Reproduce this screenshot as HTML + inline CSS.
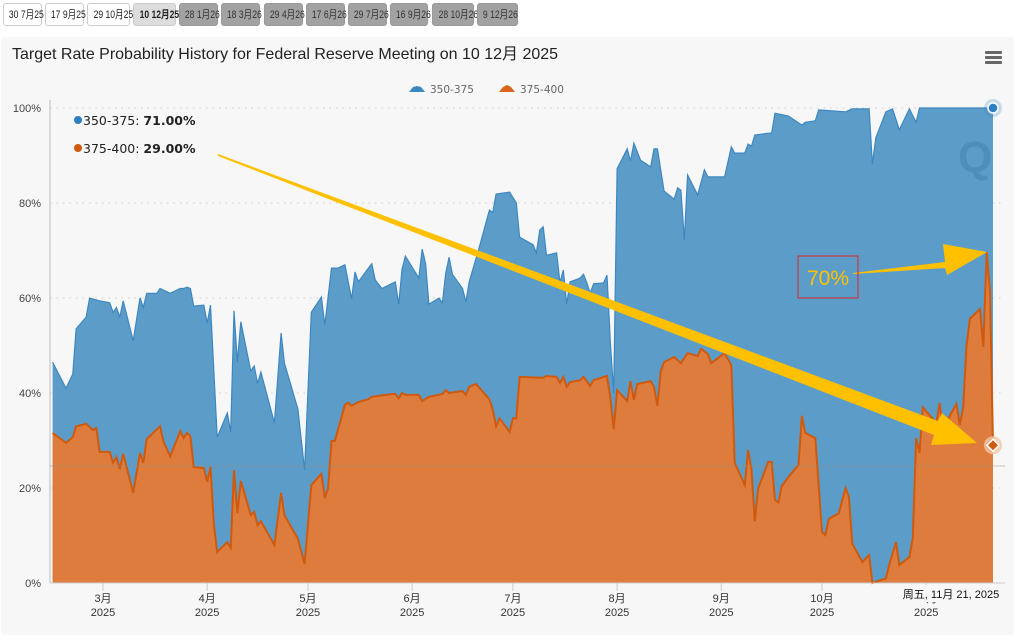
<!DOCTYPE html>
<html><head><meta charset="utf-8"><style>
body{margin:0;width:1015px;height:640px;background:#fff;font-family:"Liberation Sans","Noto Sans CJK SC",sans-serif;overflow:hidden;position:relative}
.tab{position:absolute;top:3px;height:23px;line-height:23px;font-size:11px;white-space:nowrap;text-align:center;border:1px solid #ccc;border-radius:3px;box-sizing:border-box;color:#222;background:#fff}
.tab span{display:inline-block;transform:scaleX(0.78);transform-origin:center}
.tab.dark{background:#a2a2a2;border-color:#999;color:#333}
.tab.cur{background:#ddd;font-weight:bold}
#panel{position:absolute;left:1px;top:37px;width:1013px;height:598px;background:#f7f7f7;border-radius:4px}
</style></head><body>
<div class="tab" style="left:3px;width:39px"><span>30 7月25</span></div>
<div class="tab" style="left:45px;width:39px"><span>17 9月25</span></div>
<div class="tab" style="left:87px;width:43px"><span>29 10月25</span></div>
<div class="tab cur" style="left:133px;width:43px"><span>10 12月25</span></div>
<div class="tab dark" style="left:179px;width:39px"><span>28 1月26</span></div>
<div class="tab dark" style="left:221px;width:39px"><span>18 3月26</span></div>
<div class="tab dark" style="left:264px;width:39px"><span>29 4月26</span></div>
<div class="tab dark" style="left:306px;width:39px"><span>17 6月26</span></div>
<div class="tab dark" style="left:348px;width:39px"><span>29 7月26</span></div>
<div class="tab dark" style="left:390px;width:38px"><span>16 9月26</span></div>
<div class="tab dark" style="left:432px;width:42px"><span>28 10月26</span></div>
<div class="tab dark" style="left:477px;width:41px"><span>9 12月26</span></div>
<div id="panel"></div>
<svg id="chart" width="1015" height="640" style="position:absolute;left:0;top:0"></svg>
<script>
const monthLabels=["3月","4月","5月","6月","7月","8月","9月","10月","11月"];
const monthDays=[0,31,61,92,122,153,184,214,245];
const yTicks=[0,20,40,60,80,100];
const blueDays=[-15,-11,-9,-8,-5,-4,-1,2,3,4,5,6,9,11,12,13,16,17,20,23,24,25,26,27,30,31,32,34,37,38,39,40,41,44,45,46,47,51,53,54,58,60,62,65,66,68,70,72,74,75,76,79,80,81,83,87,88,89,90,94,95,96,97,100,101,102,103,104,107,108,109,112,115,116,117,121,123,124,128,129,130,131,132,135,136,137,138,139,142,143,144,145,146,149,150,151,152,153,156,157,158,160,163,164,165,167,170,171,172,173,174,177,179,180,185,187,188,191,192,193,194,198,199,200,204,208,209,212,213,221,223,228,229,230,233,235,237,240,242,243,265];
const blueStackTop=[46.5,41,44,53.5,56,60,59.4,59,57,58,56,59.4,51,60,58,61,61,62,61,62,62,62.3,62,58.3,58.5,54.7,58.5,30.7,35.8,31.8,57.3,46.5,55,44.6,45.7,42,44.4,33.7,52.6,46.3,36.6,23.8,57,60.2,54.3,66.3,66.3,67,59.8,65.5,63.4,66.3,67.2,63.8,62,63.4,58.7,66,68.8,64.2,70.3,67.2,58.7,60,59,65.2,68.6,65,62,59.2,63.4,70.7,78.5,78,81.9,82.3,80,72.8,71.2,69.5,74.3,75,69,69.5,63.2,65.9,58.7,63.4,64.2,65,63.2,61,63,63.2,64.8,50.5,40,87.2,91.4,88.8,92.6,89,87.6,91.4,91.4,82.5,80.8,83.2,82.7,72.2,85.9,81.7,87,85.5,85.5,91.8,90.5,90.5,92.4,92,94.3,94.7,94.7,98.9,98.3,96.4,97,97.3,99.6,99.2,99.8,99.8,88.2,93.7,99.2,99.8,95.4,99.8,97,100,100];
const orangeDays=[-15,-11,-9,-8,-5,-3,-2,-1,2,3,4,5,6,9,11,12,13,17,18,20,23,24,25,26,27,30,31,32,33,34,37,38,39,40,41,44,45,46,47,51,53,54,58,60,62,65,66,67,68,69,72,73,74,76,79,80,86,87,88,89,90,94,95,97,101,102,103,107,108,109,111,115,116,117,118,121,122,123,124,131,132,135,136,137,138,139,142,143,145,146,150,151,152,153,156,157,158,159,163,164,165,166,167,170,172,174,177,178,180,181,185,187,188,191,192,193,194,195,198,199,200,201,202,205,207,208,209,212,214,215,216,219,221,222,223,226,228,229,233,234,236,237,240,241,242,243,244,248,249,250,254,255,256,257,258,261,262,263,264,265];
const orangeValues=[31.6,29.5,30.7,33,33.5,32.2,32.6,27.6,27.6,25.3,26.5,24,27.2,19,27.4,25.3,30.3,33,29.7,26.7,32,30.5,31.6,30.9,24.4,24.2,21.3,24.4,12.2,6.5,8.6,7.4,23.8,14.7,21.5,14.3,15,12.2,13,8,19,14.3,9.3,4,20.6,23,17.9,20,29.9,29.9,37.5,38,37.3,38.1,38.7,39.2,39.8,39.8,38.9,40,39.6,39.6,38.3,39.2,39.8,40.6,40,40.4,39.6,41.3,41.9,38.7,36.4,33,34.7,31.8,34.7,34.7,43.4,43.2,43.6,43.4,42.1,43.4,41.3,42.3,42.7,43.4,41.5,42.7,43.6,38.9,32.4,40.6,38.3,42.5,38.5,41.9,42.5,41.3,37.3,44.6,46.5,47.6,46.3,48.4,47.8,49.3,48.2,46.3,48.4,45.9,25.3,20.6,28,23.8,13,20,25.5,25.5,17.5,17,20.4,23.2,24.8,35.2,31.6,30.5,10.7,10.1,13.5,14.7,20,18.1,8.2,4.4,5.9,0,1,3.8,8.6,3.8,5.5,9.5,30.5,27.4,37,33.7,37.9,32.6,37.7,33.3,37,49.9,55.6,57.7,49.7,69.7,61.3,29];
const NS='http://www.w3.org/2000/svg';
const svg=document.getElementById('chart');
const X0=103,PX=3.36,XL=50,XR=993,Y0=583,PY=4.75;
function xs(d){return Math.max(XL,Math.min(XR,X0+d*PX));}
function ys(v){return Y0-v*PY;}
function mk(tag,attrs,parent){const e=document.createElementNS(NS,tag);for(const k in attrs)e.setAttribute(k,attrs[k]);(parent||svg).appendChild(e);return e;}
let t=mk('text',{x:12,y:59,'font-size':16,fill:'#222'});t.textContent='Target Rate Probability History for Federal Reserve Meeting on 10 12月 2025';


let menu=mk('g',{});


[52,57,62].forEach(y=>mk('rect',{x:985,y:y-1,width:17,height:3,rx:1,fill:'#666'},menu));
let lg=mk('g',{'font-size':10.5,fill:'#666','font-family':'"DejaVu Sans",sans-serif'});


let l1=mk('g',{},lg);


mk('path',{d:'M409 92 L413 87 L417 86 L421 87 L425 92 Z',fill:'#3d87c0'},l1);
let lt=mk('text',{x:430,y:93},l1);lt.textContent='350-375';
let l2=mk('g',{},lg);


mk('path',{d:'M499 92 L503 87 L507 85 L511 87 L515 92 Z',fill:'#d9661a'},l2);
lt=mk('text',{x:520,y:93},l2);lt.textContent='375-400';
yTicks.forEach(v=>{
 if(v>0){let g=mk('line',{x1:XL,x2:1005,y1:ys(v),y2:ys(v),stroke:'#ccc','stroke-dasharray':'1.5,5'});
 
 }
 let tx=mk('text',{x:41,y:ys(v)+4,'font-size':11,fill:'#444','text-anchor':'end'});tx.textContent=v+'%';
 
 
});
mk('line',{x1:XL,x2:XL,y1:100,y2:Y0,stroke:'#bbb'});
function pts(days,vals){return days.map((d,i)=>xs(d).toFixed(1)+','+ys(vals[i]).toFixed(1));}
let bp=pts(blueDays,blueStackTop);
let ba=mk('path',{d:'M'+xs(blueDays[0])+','+Y0+' L'+bp.join(' L')+' L'+xs(blueDays[blueDays.length-1])+','+Y0+'Z',fill:'#5b9dc8'});


mk('path',{d:'M'+bp.join(' L'),fill:'none',stroke:'#3d87c0','stroke-width':1.2});
let op=pts(orangeDays,orangeValues);
let oa=mk('path',{d:'M'+xs(orangeDays[0])+','+Y0+' L'+op.join(' L')+' L'+xs(orangeDays[orangeDays.length-1])+','+Y0+'Z',fill:'#dd7c3d'});


let ol=mk('path',{d:'M'+op.join(' L'),fill:'none',stroke:'#cf5a0e','stroke-width':2});


let wm=mk('text',{x:958,y:172,'font-size':44,'font-weight':'bold',fill:'#3f7fae','fill-opacity':0.5});wm.textContent='Q';


mk('line',{x1:XL,x2:1005,y1:466,y2:466,stroke:'#9a8a80','stroke-opacity':0.5});
mk('line',{x1:XL,x2:1005,y1:Y0,y2:Y0,stroke:'#ccc'});
const lastD=blueDays[blueDays.length-1];
mk('circle',{cx:xs(lastD),cy:ys(blueStackTop[blueStackTop.length-1]),r:9,fill:'#3d87c0','fill-opacity':0.25});
let bm=mk('circle',{cx:xs(lastD),cy:ys(blueStackTop[blueStackTop.length-1]),r:5,fill:'#2e7fc0',stroke:'#fff','stroke-width':1.5});


const oy=ys(orangeValues[orangeValues.length-1]),ox=xs(lastD);
mk('circle',{cx:ox,cy:oy,r:9,fill:'#f2c3a4','fill-opacity':0.8});
let om=mk('path',{d:`M${ox} ${oy-6} L${ox+6} ${oy} L${ox} ${oy+6} L${ox-6} ${oy}Z`,fill:'#cf5a0e',stroke:'#fff','stroke-width':1.5});


monthLabels.forEach((m,i)=>{
 const x=xs(monthDays[i]);
 mk('line',{x1:x,x2:x,y1:Y0,y2:Y0+8,stroke:'#ccc'});
 let a=mk('text',{x:x,y:602,'font-size':11,fill:'#333','text-anchor':'middle'});a.textContent=m;
 
 
 let b=mk('text',{x:x,y:616,'font-size':11,fill:'#333','text-anchor':'middle'});b.textContent='2025';
 
 
});
mk('rect',{x:896,y:585,width:110,height:17,fill:'#f7f7f7'});
let tt=mk('text',{x:951,y:598,'font-size':11,fill:'#111','text-anchor':'middle'});tt.textContent='周五, 11月 21, 2025';


let tip=mk('g',{'font-size':12.5,fill:'#222','font-family':'"DejaVu Sans",sans-serif'});


mk('circle',{cx:78,cy:120,r:4,fill:'#2e7fc0'},tip);
let t1=mk('text',{x:83,y:125},tip);t1.innerHTML='350-375: <tspan font-weight="bold">71.00%</tspan>';
mk('circle',{cx:78,cy:148,r:4,fill:'#cf5a0e'},tip);
let t2=mk('text',{x:83,y:153},tip);t2.innerHTML='375-400: <tspan font-weight="bold">29.00%</tspan>';
let ar=mk('path',{d:'M218 154 L938 421 L942 413 L977 443 L931 445 L934 435 L218 156Z',fill:'#ffc000'});


let ar2=mk('path',{d:'M853 273 L945 262 L943 244 L987 252 L947 275 L945 268 L853 274Z',fill:'#ffc000'});


let bx=mk('rect',{x:798,y:256,width:60,height:42,fill:'none',stroke:'#e02020','stroke-width':1});


let at=mk('text',{x:828,y:285,'font-size':21,fill:'#ffc000','text-anchor':'middle'});at.textContent='70%';


</script>
</body></html>
